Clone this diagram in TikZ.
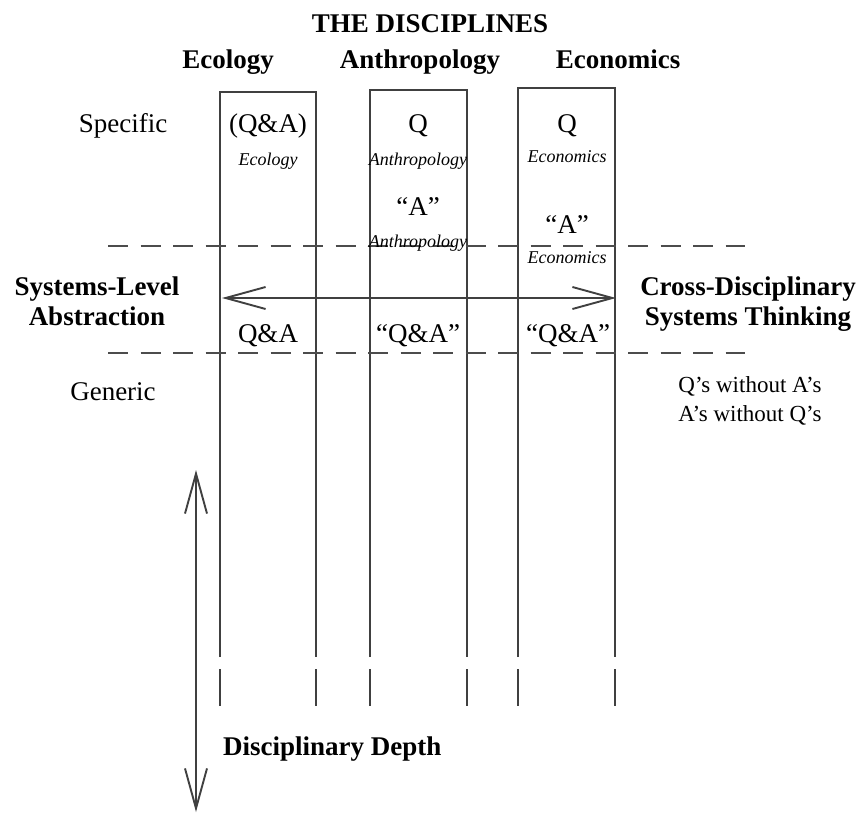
\documentclass[tikz,border=0pt]{standalone}
\usepackage{fontspec}
\setmainfont{Liberation Serif}
\usetikzlibrary{arrows.meta}
\begin{document}
\begin{tikzpicture}[x=1pt,y=-1pt,
  big/.style={font=\fontsize{27}{30}\selectfont, inner sep=0pt, anchor=base},
  bigb/.style={big, font=\fontsize{27}{30}\selectfont\bfseries},
  side/.style={big, font=\fontsize{23}{27}\selectfont},
  small/.style={font=\fontsize{18}{20}\selectfont\itshape, inner sep=0pt, anchor=base},
  wall/.style={draw=black!75, line width=1.6pt},
  level/.style={draw=black!70, line width=2.8pt, dash pattern=on 20pt off 12.5pt},
  twohead/.style={draw=black!75, line width=1.9pt,
    {Straight Barb[length=40pt,width=22pt]}-{Straight Barb[length=40pt,width=22pt]}}]
\useasboundingbox (0,0) rectangle (859,814);
\foreach \l/\r/\t in {220/316/92, 370/467/90, 518/615/88} {
  \draw[wall] (\l,657) -- (\l,\t) -- (\r,\t) -- (\r,657);
  \draw[wall] (\l,669) -- (\l,706) (\r,669) -- (\r,706);
}
\draw[level] (108,246) -- (745,246);
\draw[level] (108,353) -- (745,353);

\node[bigb] (title) at (430,32) {THE DISCIPLINES};
\node[bigb] (ecol) at (228,68) {Ecology};
\node[bigb] (anth) at (420,68) {Anthropology};
\node[bigb] (econ) at (618,68) {Economics};

\node[big] (specific) at (123,132) {Specific};
\node[big] (ecolqa) at (268,132) {(Q\&A)};
\node[small] (ecolq1) at (268,165) {Ecology};
\node[big] (anthq) at (418,132) {Q};
\node[small] (anthq1) at (418,165) {Anthropology};
\node[big] (antha) at (418,215) {``A''};
\node[small] (antha1) at (418,247) {Anthropology};
\node[big] (econq) at (567,132) {Q};
\node[small] (econq1) at (567,162) {Economics};
\node[big] (econa) at (567,233) {``A''};
\node[small] (econa1) at (567,263) {Economics};

\node[bigb] (sys) at (97,295) {Systems-Level};
\node[bigb] (abs) at (97,325) {Abstraction};
\node[bigb] (cross) at (748,295) {Cross-Disciplinary};
\node[bigb] (think) at (748,325) {Systems Thinking};

\node[big] (ecolg) at (268,342) {Q\&A};
\node[big] (anthg) at (418,342) {``Q\&A''};
\node[big] (econg) at (568,342) {``Q\&A''};

\node[big] (generic) at (113,400) {Generic};
\node[side] (qwa) at (750,392) {Q's without A's};
\node[side] (awq) at (750,421) {A's without Q's};

\node[bigb, anchor=base west] (depth) at (223,755) {Disciplinary Depth};

\coordinate (left) at (222,298);
\coordinate (right) at (616,298);
\draw[twohead] (left) -- (right);
\coordinate (shallow) at (196,470);
\coordinate (deep) at (196,812);
\draw[twohead] (shallow) -- (deep);
\end{tikzpicture}
\end{document}
